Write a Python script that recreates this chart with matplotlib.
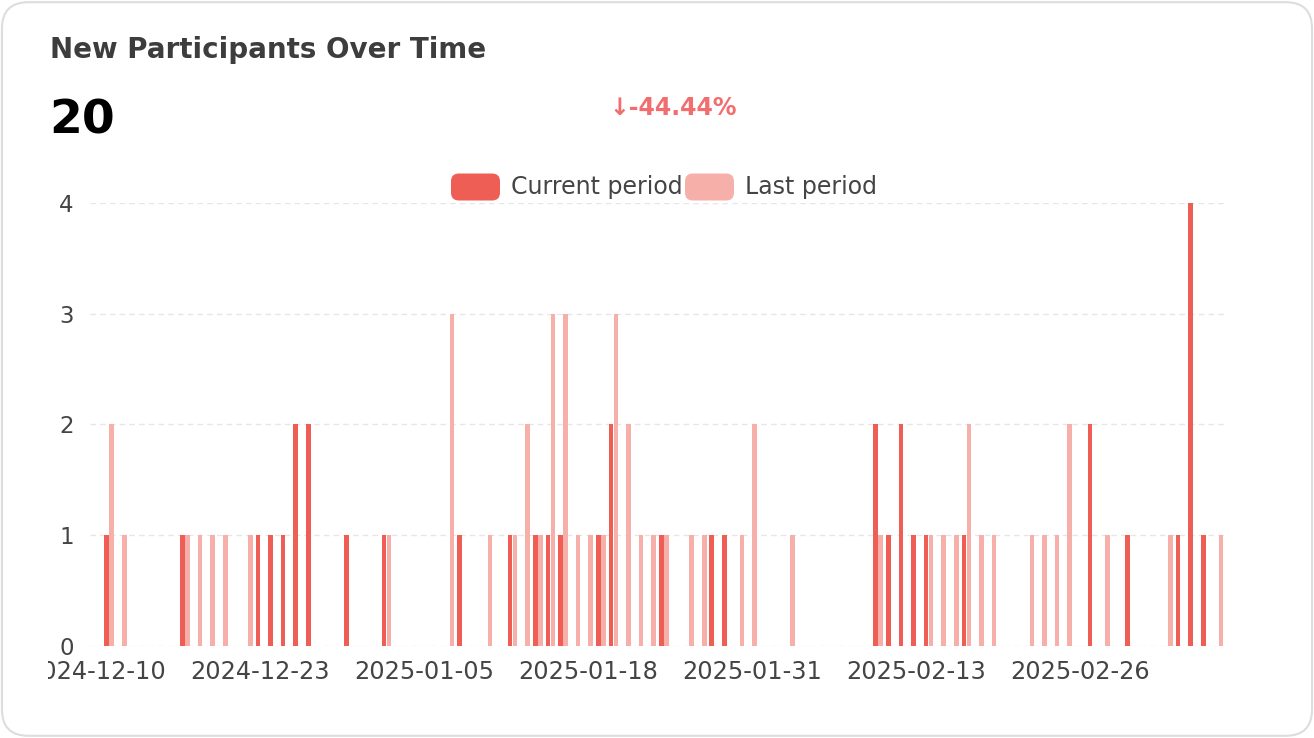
import numpy as np
import pandas as pd
import matplotlib
matplotlib.use('Agg')
import matplotlib.pyplot as plt
from matplotlib.patches import FancyBboxPatch
from matplotlib.transforms import Bbox, TransformedBbox

# daily counts, 2024-12-10 .. 2025-03-09
days = pd.date_range('2024-12-10', periods=90, freq='D')
current_period = [0, 1, 0, 0, 0, 0, 0, 1, 0, 0,
                  0, 0, 0, 1, 1, 1, 2, 2, 0, 0,
                  1, 0, 0, 1, 0, 0, 0, 0, 0, 1,
                  0, 0, 0, 1, 0, 1, 1, 1, 0, 0,
                  1, 2, 0, 0, 0, 1, 0, 0, 0, 1,
                  1, 0, 0, 0, 0, 0, 0, 0, 0, 0,
                  0, 0, 2, 1, 2, 1, 1, 0, 0, 1,
                  0, 0, 0, 0, 0, 0, 0, 0, 0, 2,
                  0, 0, 1, 0, 0, 0, 1, 4, 1, 0]
last_period = [0, 2, 1, 0, 0, 0, 0, 1, 1, 1,
               1, 0, 1, 0, 0, 0, 0, 0, 0, 0,
               0, 0, 0, 1, 0, 0, 0, 0, 3, 0,
               0, 1, 0, 1, 2, 1, 3, 3, 1, 1,
               1, 3, 2, 1, 1, 1, 0, 1, 1, 0,
               0, 1, 2, 0, 0, 1, 0, 0, 0, 0,
               0, 0, 1, 0, 0, 0, 1, 1, 1, 2,
               1, 1, 0, 0, 1, 1, 1, 2, 0, 0,
               1, 0, 0, 0, 0, 1, 0, 0, 0, 1]
total_new = '20'
change_text = '↓-44.44%'
series_names = ['Current period', 'Last period']

cur_color = '#ee5e55'
last_color = '#f7afaa'
text_color = '#444444'

W, H = 1314, 738
fig = plt.figure(figsize=(W / 100, H / 100), dpi=100)

# card background with rounded border
card = FancyBboxPatch((0.0015, 0.003), 0.997, 0.994,
                      boxstyle='round,pad=0,rounding_size=0.02',
                      transform=fig.transFigure, facecolor='white',
                      edgecolor='#dddddd', linewidth=1.5,
                      mutation_aspect=W / H, zorder=-10)
fig.patches.append(card)

ax = fig.add_axes([90.3 / W, 92.3 / H, 1134.5 / W, 442.7 / H])
ax.set_facecolor('none')
ax.set_zorder(5)

x = np.arange(len(days))
ax.bar(x - 0.2, current_period, width=0.37, color=cur_color, zorder=3)
ax.bar(x + 0.2, last_period, width=0.37, color=last_color, zorder=3)

ax.set_xlim(-0.5, len(days) - 0.5)
ax.set_ylim(0, 4)
ax.set_yticks([0, 1, 2, 3, 4])
tick_pos = x[::13]
ax.set_xticks(tick_pos)
ax.set_xticklabels([days[i].strftime('%Y-%m-%d') for i in tick_pos])

for s in ax.spines.values():
    s.set_visible(False)
ax.tick_params(axis='both', length=0, labelsize=16.5, labelcolor=text_color)
ax.tick_params(axis='x', labelsize=17.3, pad=10)
ax.tick_params(axis='y', pad=12)
ax.grid(axis='y', color='#e6e6e6', linestyle=(0, (4, 3)), linewidth=1, zorder=0)
ax.set_axisbelow(True)

# first date label is cut off at the left edge of the chart area
clip = TransformedBbox(Bbox([[48 / W, 0], [1, 1]]), fig.transFigure)
for lab in ax.get_xticklabels():
    lab.set_clip_box(clip)
    lab.set_clip_on(True)

# header texts
fig.text(50 / W, 1 - 50 / H, 'New Participants Over Time', fontsize=20,
         fontweight='bold', color='#3d3d3d', va='center', ha='left')
fig.text(49 / W, 1 - 121 / H, total_new, fontsize=34, fontweight='bold',
         color='black', va='center', ha='left')
fig.text(673 / W, 1 - 108 / H, change_text, fontsize=17, fontweight='bold',
         color='#f26d6d', va='center', ha='center')

# legend drawn by hand to match the rounded swatches
leg_y = 1 - 187 / H
for name, col, x0 in [(series_names[0], cur_color, 451), (series_names[1], last_color, 685)]:
    sw = FancyBboxPatch((x0 / W, leg_y - 13.5 / H), 49 / W, 27 / H,
                        boxstyle='round,pad=0,rounding_size=0.006',
                        transform=fig.transFigure, facecolor=col, edgecolor='none',
                        mutation_aspect=W / H)
    fig.patches.append(sw)
    fig.text((x0 + 60) / W, leg_y, name, fontsize=17, color=text_color,
             va='center', ha='left')

fig.savefig('out.png', dpi=100)
